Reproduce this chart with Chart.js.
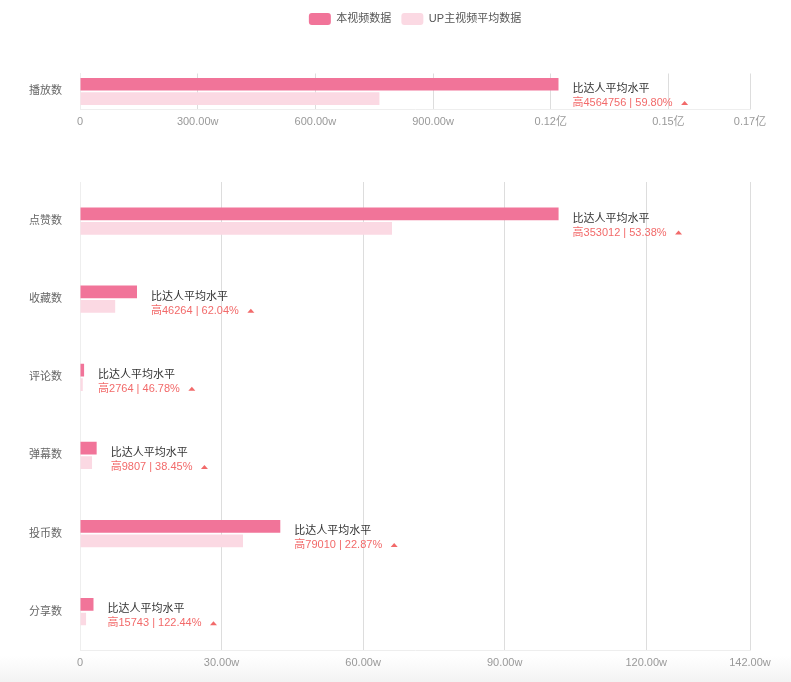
<!DOCTYPE html>
<html>
<head>
<meta charset="utf-8">
<script src="https://cdn.jsdelivr.net/npm/chart.js@4.4.0/dist/chart.umd.min.js"></script>
<style>
  html, body { margin: 0; padding: 0; background: #fff; }
  body { width: 791px; height: 682px; position: relative; overflow: hidden; }
  #fade { position: absolute; left: 0; right: 0; bottom: 0; height: 26px; background: linear-gradient(#ffffff, #f3f3f3); }
  #topChart { position: absolute; left: 0; top: 0; }
  #bottomChart { position: absolute; left: 0; top: 150px; }
</style>
</head>
<body>
<div id="fade"></div>
<canvas id="topChart" width="791" height="140"></canvas>
<canvas id="bottomChart" width="791" height="532"></canvas>
<script>
const legendNames = ['本视频数据', 'UP主视频平均数据'];
const compareTitle = '比达人平均水平';

// 播放数
const topCategories = ['播放数'];
const topVideo = [12198000];
const topAverage = [7633000];
const topDiff = ['4564756'];
const topPct = ['59.80%'];
const topTicks = [0, 3000000, 6000000, 9000000, 12000000, 15000000, 17080000];
const topTickLabels = ['0', '300.00w', '600.00w', '900.00w', '0.12亿', '0.15亿', '0.17亿'];

// 互动数据
const bottomCategories = ['点赞数', '收藏数', '评论数', '弹幕数', '投币数', '分享数'];
const bottomVideo = [1014300, 120800, 8670, 35310, 424500, 28600];
const bottomAverage = [661300, 74570, 5910, 25510, 345500, 12860];
const bottomDiff = ['353012', '46264', '2764', '9807', '79010', '15743'];
const bottomPct = ['53.38%', '62.04%', '46.78%', '38.45%', '22.87%', '122.44%'];
const bottomTicks = [0, 300000, 600000, 900000, 1200000, 1420000];
const bottomTickLabels = ['0', '30.00w', '60.00w', '90.00w', '120.00w', '142.00w'];

const FONT = '"Liberation Sans", "Noto Sans CJK SC", sans-serif';
const PINK = '#f17499';
const LIGHT_PINK = '#fbd9e3';
const RED = '#f26a6a';

Chart.defaults.font.family = FONT;
Chart.defaults.font.size = 11;
Chart.defaults.animation = false;

// 比达人平均水平 标注
const compareLabels = {
  id: 'compareLabels',
  afterDatasetsDraw(chart, args, opts) {
    const ctx = chart.ctx;
    const mainBars = chart.getDatasetMeta(0).data;
    const avgBars = chart.getDatasetMeta(1).data;
    ctx.save();
    ctx.font = '11px ' + FONT;
    ctx.textBaseline = 'middle';
    ctx.textAlign = 'left';
    mainBars.forEach((bar, i) => {
      const x = Math.max(bar.x, avgBars[i].x) + 14;
      const cy = (bar.y + avgBars[i].y) / 2;
      ctx.fillStyle = '#333';
      ctx.fillText(compareTitle, x, cy - 2.5);
      const line = '高' + opts.diff[i] + ' | ' + opts.pct[i];
      const ly = cy + 11.5;
      ctx.fillStyle = RED;
      ctx.fillText(line, x, ly);
      const tx = x + ctx.measureText(line).width + 12;
      ctx.beginPath();
      ctx.moveTo(tx - 3.5, ly + 2);
      ctx.lineTo(tx + 3.5, ly + 2);
      ctx.lineTo(tx, ly - 2);
      ctx.closePath();
      ctx.fill();
    });
    ctx.restore();
  }
};

// legend 占位高度 + 居中到绘图区
const legendSpace = {
  id: 'legendSpace',
  beforeLayout(chart) {
    const legend = chart.legend;
    if (legend && !legend._spaced) {
      const fit = legend.fit;
      legend.fit = function () {
        fit.call(this);
        this.height = 70.5;
      };
      legend._spaced = true;
    }
  },
  afterLayout(chart) {
    chart.legend.left = chart.chartArea.left;
    chart.legend.right = chart.chartArea.right;
  }
};

function makeChart(el, cats, video, avg, diff, pct, ticks, tickLabels, cfg) {
  return new Chart(document.getElementById(el), {
    type: 'bar',
    data: {
      labels: cats,
      datasets: [
        { label: legendNames[0], data: video, backgroundColor: PINK, borderWidth: 0,
          categoryPercentage: cfg.catPct, barPercentage: cfg.barPct },
        { label: legendNames[1], data: avg, backgroundColor: LIGHT_PINK, borderWidth: 0,
          categoryPercentage: cfg.catPct, barPercentage: cfg.barPct }
      ]
    },
    options: {
      indexAxis: 'y',
      responsive: false,
      layout: { padding: cfg.padding },
      plugins: {
        legend: {
          display: cfg.legend,
          position: 'top',
          labels: {
            boxWidth: 22,
            boxHeight: 12,
            useBorderRadius: true,
            borderRadius: 3,
            padding: 10,
            color: '#555',
            font: { size: 11 }
          }
        },
        tooltip: { enabled: false },
        compareLabels: { diff: diff, pct: pct }
      },
      scales: {
        x: {
          min: 0,
          max: ticks[ticks.length - 1],
          afterBuildTicks(scale) {
            scale.ticks = ticks.map(v => ({ value: v }));
          },
          ticks: {
            padding: cfg.tickPad,
            color: '#999',
            maxRotation: 0,
            autoSkip: false,
            callback: (v, i) => tickLabels[i]
          },
          grid: {
            drawTicks: false,
            color: ctx => ctx.index === 0 ? '#eeeeee' : '#dddddd'
          },
          border: { color: '#eeeeee' }
        },
        y: {
          afterFit(scale) { scale.width = 80; },
          ticks: { padding: 18, color: '#666' },
          grid: { display: false, drawTicks: false },
          border: { color: '#eeeeee' }
        }
      }
    },
    plugins: cfg.legend ? [compareLabels, legendSpace] : [compareLabels]
  });
}

makeChart('topChart', topCategories, topVideo, topAverage, topDiff, topPct, topTicks, topTickLabels, {
  legend: true, catPct: 0.8, barPct: 0.885, tickPad: 6,
  padding: { top: 3, right: 41, bottom: 5.5, left: 0 }
});

makeChart('bottomChart', bottomCategories, bottomVideo, bottomAverage, bottomDiff, bottomPct, bottomTicks, bottomTickLabels, {
  legend: false, catPct: 0.372, barPct: 0.876, tickPad: 6,
  padding: { top: 32, right: 41, bottom: 6, left: 0 }
});
</script>
</body>
</html>
